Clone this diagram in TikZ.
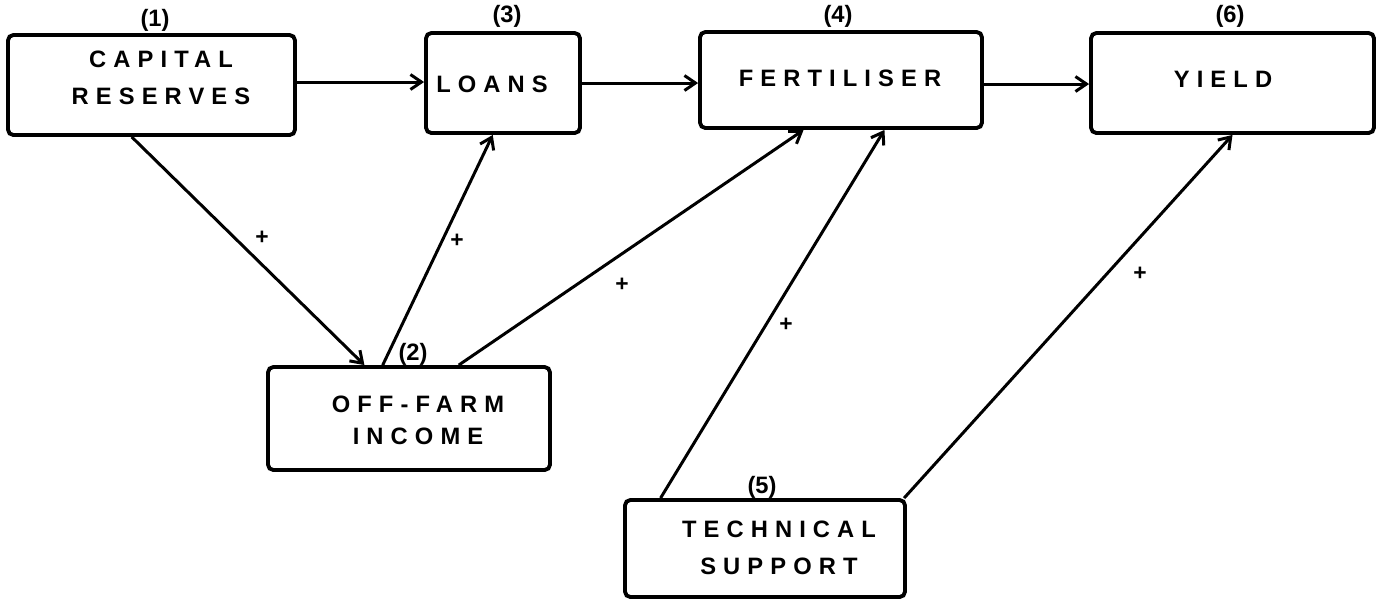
\documentclass[tikz,border=0pt]{standalone}
\usepackage{fontspec}
\setmainfont{Liberation Sans}
\newfontfamily\boxfont[LetterSpace=30]{Liberation Sans}
\usetikzlibrary{arrows.meta,calc}
\begin{document}
\begin{tikzpicture}[x=0.02cm,y=-0.02cm,
  box/.style={draw, line width=2.2pt, rounded corners=3pt, inner sep=0pt},
  txt/.style={font=\boxfont\bfseries\fontsize{13.5}{21}\selectfont, align=center, inner sep=0pt},
  num/.style={font=\bfseries\fontsize{13.5}{16}\selectfont, inner sep=0pt},
  plus/.style={font=\bfseries\fontsize{13}{16}\selectfont, inner sep=0pt},
  arr/.style={line width=1.7pt, -{Straight Barb[length=2.2mm,width=3mm]}},
]
\useasboundingbox (0,0) rectangle (1376,600);

% boxes
\node[box, minimum width=5.74cm, minimum height=2.0cm] (cap) at (151.5,85) {};
\node[box, minimum width=3.08cm, minimum height=2.0cm] (loans) at (503,83) {};
\node[box, minimum width=5.64cm, minimum height=1.92cm] (fert) at (841,80) {};
\node[box, minimum width=5.66cm, minimum height=2.0cm] (yield) at (1232.5,83) {};
\node[box, minimum width=5.64cm, minimum height=2.06cm] (off) at (409,418.5) {};
\node[box, minimum width=5.6cm, minimum height=1.94cm] (tech) at (765,548.5) {};

% texts
\node[txt] (tcap) at (161,78) {CAPITAL\\RESERVES};
\node[txt] (tloans) at (492,84) {LOANS};
\node[txt] (tfert) at (840,78) {FERTILISER};
\node[txt] (tyield) at (1223,79) {YIELD};
\node[txt] (toff) at (418,420) {OFF-FARM\\[-2.8pt]INCOME};
\node[txt] (ttech) at (779,548) {TECHNICAL\\SUPPORT};

% numbers
\node[num] (n1) at (155,20) {(1)};
\node[num] (n3) at (507,16) {(3)};
\node[num] (n4) at (838,16) {(4)};
\node[num] (n6) at (1230,16) {(6)};
\node[num] (n2) at (413,354) {(2)};
\node[num] (n5) at (762,487) {(5)};

% horizontal arrows
\draw[arr] ($(cap.east)+(0,-3)$) -- ($(cap.east -| loans.west)+(0,-3)$);
\draw[arr] (loans.east) -- (loans.east -| fert.west);
\draw[arr] ($(fert.east)+(0,4)$) -- ($(fert.east -| yield.west)+(0,4)$);

% diagonal arrows
\draw[arr] ($(cap.south west)!0.432!(cap.south east)$) -- ($(off.north west)!0.344!(off.north east)$);
\draw[arr] ($(off.north west)!0.408!(off.north east)$) -- ($(loans.south west)!0.435!(loans.south east)$);
\draw[arr] ($(off.north west)!0.674!(off.north east)$) -- ($(fert.south west)!0.369!(fert.south east)$);
\draw[arr] ($(tech.north west)!0.132!(tech.north east)$) -- ($(fert.south west)!0.652!(fert.south east)$);
\draw[arr] ($(tech.north west)!0.99!(tech.north east)$) -- ($(yield.south west)!0.50!(yield.south east)$);

% plus signs
\node[plus] (p1) at (262,238) {+};
\node[plus] (p2) at (457,241) {+};
\node[plus] (p3) at (622,285) {+};
\node[plus] (p4) at (786,325) {+};
\node[plus] (p5) at (1140,274) {+};
\end{tikzpicture}
\end{document}
